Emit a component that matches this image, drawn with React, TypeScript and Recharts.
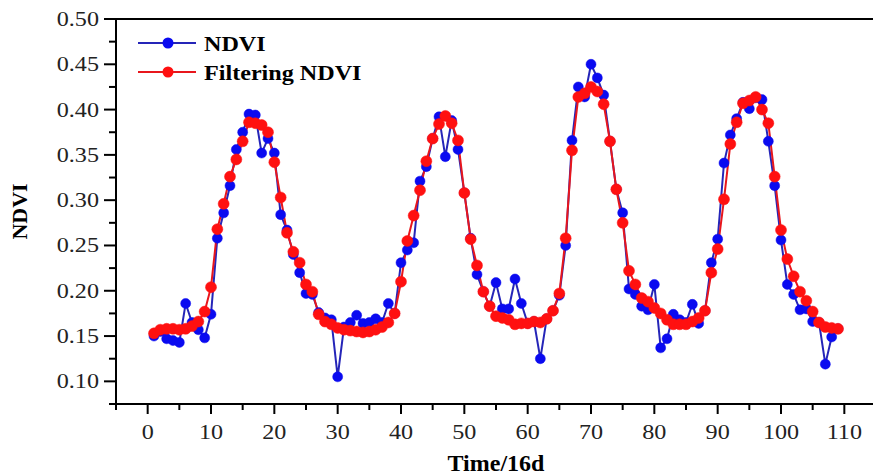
import { LineChart, Line, XAxis, YAxis, ReferenceLine } from 'recharts';

const NDVI = [
    0.150, 0.155, 0.147, 0.145, 0.143, 0.186, 0.165, 0.157, 0.148, 0.174,
    0.258, 0.286, 0.316, 0.356, 0.375, 0.395, 0.394, 0.352, 0.368, 0.352,
    0.284, 0.267, 0.240, 0.220, 0.197, 0.196, 0.176, 0.170, 0.168, 0.105,
    0.160, 0.165, 0.173, 0.164, 0.165, 0.169, 0.165, 0.186, 0.175, 0.231,
    0.245, 0.253, 0.321, 0.337, 0.368, 0.392, 0.348, 0.388, 0.356, 0.308,
    0.258, 0.218, 0.199, 0.183, 0.209, 0.180, 0.180, 0.213, 0.186, 0.164,
    0.166, 0.125, 0.169, 0.178, 0.195, 0.250, 0.366, 0.425, 0.414, 0.450,
    0.435, 0.416, 0.365, 0.312, 0.286, 0.202, 0.196, 0.183, 0.179, 0.207,
    0.137, 0.147, 0.174, 0.168, 0.165, 0.185, 0.164, 0.178, 0.231, 0.257,
    0.341, 0.372, 0.390, 0.408, 0.401, 0.413, 0.411, 0.365, 0.316, 0.256,
    0.207, 0.196, 0.179, 0.180, 0.166, 0.165, 0.119, 0.149, 0.158,
];

const FILTERED = [
    0.153, 0.157, 0.158, 0.158, 0.157, 0.158, 0.161, 0.166, 0.177, 0.204,
    0.268, 0.296, 0.326, 0.345, 0.365, 0.386, 0.385, 0.383, 0.375, 0.342,
    0.303, 0.264, 0.243, 0.231, 0.207, 0.199, 0.174, 0.166, 0.163, 0.159,
    0.157, 0.156, 0.155, 0.154, 0.155, 0.157, 0.160, 0.165, 0.175, 0.210,
    0.255, 0.283, 0.311, 0.343, 0.368, 0.384, 0.393, 0.385, 0.366, 0.308,
    0.257, 0.228, 0.199, 0.183, 0.172, 0.170, 0.168, 0.163, 0.164, 0.164,
    0.166, 0.165, 0.169, 0.178, 0.197, 0.258, 0.355, 0.414, 0.418, 0.425,
    0.420, 0.406, 0.365, 0.312, 0.275, 0.222, 0.207, 0.192, 0.188, 0.181,
    0.175, 0.168, 0.163, 0.163, 0.163, 0.166, 0.170, 0.178, 0.220, 0.246,
    0.301, 0.362, 0.386, 0.407, 0.410, 0.414, 0.400, 0.385, 0.326, 0.267,
    0.235, 0.216, 0.199, 0.189, 0.177, 0.165, 0.160, 0.159, 0.158,
];

// time step index, 1..109
const TIME = NDVI.map((_, i) => i + 1);

const X_TICKS = [-5, 0, 5, 10, 15, 20, 25, 30, 35, 40, 45, 50, 55, 60, 65, 70, 75, 80, 85, 90, 95, 100, 105, 110];
const X_LABELS = [0, 10, 20, 30, 40, 50, 60, 70, 80, 90, 100, 110];
const Y_TICKS = [0.075, 0.1, 0.125, 0.15, 0.175, 0.2, 0.225, 0.25, 0.275, 0.3, 0.325, 0.35, 0.375, 0.4, 0.425, 0.45, 0.475, 0.5];
const Y_LABELS = ['0.10', '0.15', '0.20', '0.25', '0.30', '0.35', '0.40', '0.45', '0.50'];

const data = TIME.map((t, i) => ({ t, ndvi: NDVI[i], filtered: FILTERED[i] }));

const FONT = '"Liberation Serif", "Times New Roman", serif';
const BLUE_LINE = '#2525b8';
const BLUE_DOT = '#0a0af0';
const RED_LINE = '#e8161c';
const RED_DOT = '#ff1010';
// reference text is a bit wide for its height
const STRETCH = 1.15;

function XTick({ x, y, payload }: any) {
    const major = X_LABELS.includes(payload.value);
    return (
        <g>
            <line x1={x} x2={x} y1={y} y2={y + (major ? 10 : 6)} stroke="#000" strokeWidth={2} />
            {major && (
                <text
                    transform={`translate(${x}, ${y + 35}) scale(${STRETCH}, 1)`}
                    textAnchor="middle" fontFamily={FONT} fontSize={21} fill="#222"
                >
                    {payload.value}
                </text>
            )}
        </g>
    );
}

function YTick({ x, y, payload }: any) {
    const label = payload.value.toFixed(2);
    const major = Y_LABELS.includes(label);
    return (
        <g>
            <line x1={x - (major ? 12 : 7)} x2={x} y1={y} y2={y} stroke="#000" strokeWidth={2} />
            {major && (
                <text
                    transform={`translate(${x - 17}, ${y + 7}) scale(${STRETCH}, 1)`}
                    textAnchor="end" fontFamily={FONT} fontSize={21} fill="#222"
                >
                    {label}
                </text>
            )}
        </g>
    );
}

function LegendBox() {
    const items = [
        { label: 'NDVI', line: BLUE_LINE, dot: BLUE_DOT },
        { label: 'Filtering NDVI', line: RED_LINE, dot: RED_DOT },
    ];
    return (
        <svg width={260} height={70} style={{ position: 'absolute', left: 136, top: 31 }}>
            {items.map((it, i) => (
                <g key={it.label} transform={`translate(0, ${i * 29})`}>
                    <line x1={2} x2={60} y1={12} y2={12} stroke={it.line} strokeWidth={2} />
                    <circle cx={32} cy={12} r={5.5} fill={it.dot} />
                    <text
                        transform={`translate(68, 19.5) scale(${STRETCH}, 1)`}
                        fontFamily={FONT} fontSize={21} fontWeight="bold" fill="#000"
                    >
                        {it.label}
                    </text>
                </g>
            ))}
        </svg>
    );
}

export default function App() {
    return (
        <div style={{ position: 'absolute', left: 0, top: 0, width: 873, height: 475, overflow: 'hidden', background: '#fff' }}>
            <LineChart width={885} height={475} data={data} margin={{ top: 19, right: 9, bottom: 0, left: 0 }}>
                <XAxis
                    dataKey="t"
                    type="number"
                    domain={[-5, 115]}
                    ticks={X_TICKS}
                    interval={0}
                    tickSize={0}
                    tickMargin={0}
                    tickLine={false}
                    tick={<XTick />}
                    axisLine={{ stroke: '#000', strokeWidth: 2 }}
                    height={71}
                    label={{ value: 'Time/16d', position: 'insideBottom', offset: 4, style: { fontFamily: FONT, fontSize: 24, fontWeight: 'bold', fill: '#000' } }}
                />
                <YAxis
                    type="number"
                    domain={[0.075, 0.5]}
                    ticks={Y_TICKS}
                    interval={0}
                    tickSize={0}
                    tickMargin={0}
                    tickLine={false}
                    tick={<YTick />}
                    axisLine={{ stroke: '#000', strokeWidth: 2 }}
                    width={116}
                    label={{ value: 'NDVI', angle: -90, position: 'insideLeft', offset: 19, style: { fontFamily: FONT, fontSize: 22, fontWeight: 'bold', fill: '#000', textAnchor: 'middle' } }}
                />
                <ReferenceLine y={0.5} stroke="#000" strokeWidth={2} ifOverflow="visible" />
                <Line
                    dataKey="ndvi"
                    stroke={BLUE_LINE}
                    strokeWidth={2}
                    dot={{ r: 5, fill: BLUE_DOT, stroke: BLUE_DOT, strokeWidth: 0.5 }}
                    activeDot={false}
                    isAnimationActive={false}
                />
                <Line
                    dataKey="filtered"
                    stroke={RED_LINE}
                    strokeWidth={2}
                    dot={{ r: 5.5, fill: RED_DOT, stroke: RED_DOT, strokeWidth: 0.5 }}
                    activeDot={false}
                    isAnimationActive={false}
                />
            </LineChart>
            <LegendBox />
        </div>
    );
}
